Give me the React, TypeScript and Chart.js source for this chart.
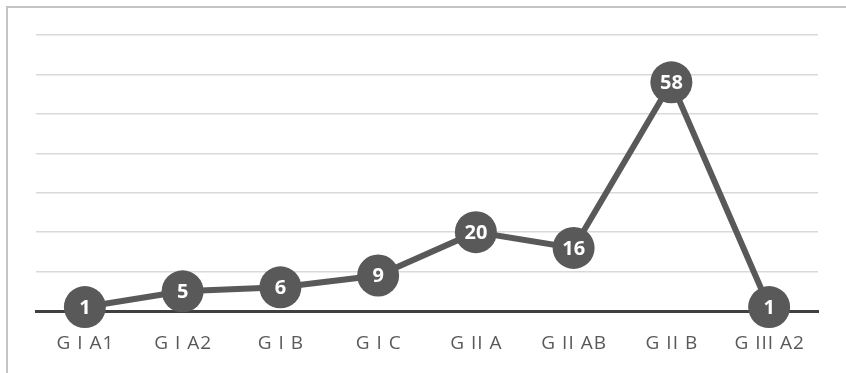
import React, { useEffect, useRef } from "react";
import { Chart, registerables } from "chart.js";

Chart.register(...registerables);

const categories = ["G I A1", "G I A2", "G I B", "G I C", "G II A", "G II AB", "G II B", "G III A2"];
const counts = [1, 5, 6, 9, 20, 16, 58, 1];
const yMax = 70;
const yStep = 10;

const FONT = "'Open Sans', Lato, sans-serif";

const valueLabels = {
  id: "valueLabels",
  afterDatasetsDraw(chart: any) {
    const ctx = chart.ctx;
    const meta = chart.getDatasetMeta(0);
    ctx.save();
    ctx.fillStyle = "#ffffff";
    ctx.font = `bold 20px ${FONT}`;
    ctx.textAlign = "center";
    ctx.textBaseline = "middle";
    meta.data.forEach((pt: any, i: number) => {
      ctx.fillText(String(counts[i]), pt.x, pt.y + 1);
    });
    ctx.restore();
  },
};

const spacedTicks = {
  id: "spacedTicks",
  afterDraw(chart: any) {
    const ctx = chart.ctx;
    const xs = chart.scales.x;
    ctx.save();
    ctx.fillStyle = "#595959";
    ctx.font = `19px ${FONT}`;
    (ctx as any).letterSpacing = "1px";
    ctx.textAlign = "center";
    ctx.textBaseline = "middle";
    categories.forEach((c, i) => {
      ctx.fillText(c, xs.getPixelForValue(i) + 0.5, chart.chartArea.bottom + 33);
    });
    ctx.restore();
  },
};

export default function App() {
  const ref = useRef<HTMLCanvasElement>(null);
  useEffect(() => {
    if (!ref.current) return;
    const chart = new Chart(ref.current, {
      type: "line",
      data: {
        labels: categories,
        datasets: [
          {
            data: counts,
            borderColor: "#595959",
            borderWidth: 6,
            pointRadius: 21,
            pointHoverRadius: 21,
            pointBackgroundColor: "#595959",
            pointBorderWidth: 0,
            tension: 0,
            clip: false,
          },
        ],
      },
      options: {
        responsive: false,
        animation: false,
        events: [],
        layout: { padding: { left: 36, right: 28, top: 35, bottom: 0 } },
        plugins: { legend: { display: false }, tooltip: { enabled: false } },
        scales: {
          x: {
            offset: true,
            grid: { display: false },
            border: { display: true, color: "#404040", width: 3 },
            ticks: { display: false },
            afterFit: (s: any) => {
              s.height = 62;
            },
          },
          y: {
            min: 0,
            max: yMax,
            ticks: { display: false, stepSize: yStep },
            border: { display: false },
            grid: {
              drawTicks: false,
              color: (c: any) => (c.tick && c.tick.value === 0 ? "#404040" : "#d9d9d9"),
              lineWidth: (c: any) => (c.tick && c.tick.value === 0 ? 3 : 1.5),
            },
            afterFit: (s: any) => {
              s.width = 0;
            },
          },
        },
      },
      plugins: [valueLabels, spacedTicks],
    });
    return () => chart.destroy();
  }, []);

  return (
    <div style={{ position: "fixed", left: 0, top: 0, width: 846, height: 373, background: "#fff" }}>
      <div
        style={{
          position: "absolute",
          left: 6,
          top: 6,
          width: 846,
          height: 373,
          borderLeft: "2px solid #c4c4c4",
          borderTop: "2px solid #c4c4c4",
        }}
      />
      <canvas ref={ref} width={846} height={373} style={{ position: "absolute", left: 0, top: 0 }} />
    </div>
  );
}
